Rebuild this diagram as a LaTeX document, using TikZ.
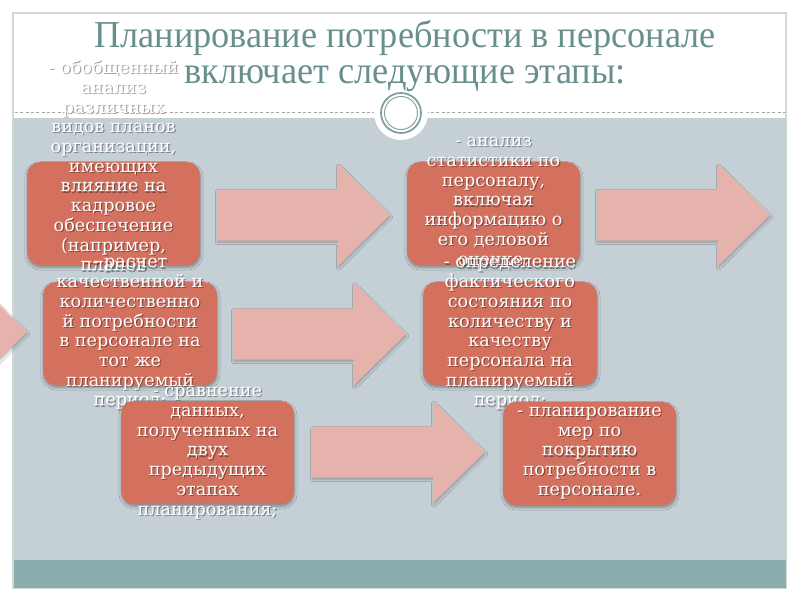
\documentclass[tikz,border=0pt]{standalone}
\usepackage{fontspec}
\setmainfont{DejaVu Serif}
\newfontfamily\titlefont[FakeStretch=0.955]{Liberation Serif}
\usetikzlibrary{shadows,shadows.blur}

\definecolor{slidegray}{RGB}{197,208,214}
\definecolor{bandteal}{RGB}{138,173,173}
\definecolor{boxred}{RGB}{212,112,94}
\definecolor{arrowpink}{RGB}{229,179,172}
\definecolor{titlecol}{RGB}{104,142,142}
\definecolor{ringcol}{RGB}{125,158,158}
\definecolor{framecol}{RGB}{208,216,216}

\tikzset{
  stagebox/.style={fill=boxred, inner sep=0pt, rounded corners=9.75pt,
    minimum width=129.75pt, minimum height=77.25pt,
    blur shadow={shadow xshift=0.4pt, shadow yshift=-1.8pt, shadow blur radius=2pt, shadow opacity=35, shadow blur steps=6}},
  stagearrowstyle/.style={fill=arrowpink,
    blur shadow={shadow xshift=0.5pt, shadow yshift=-1.5pt, shadow blur radius=1.6pt, shadow opacity=25, shadow blur steps=5}},
  stagetext/.style={text=white, align=center, inner sep=0pt,
    font=\fontsize{13.2}{14.8}\selectfont},
  stageshadow/.style={stagetext, text=black, opacity=0.35, xshift=0.9pt, yshift=-0.9pt},
  titletext/.style={text=titlecol, align=center, inner sep=0pt,
    font=\titlefont\fontsize{28.5}{27}\selectfont}
}

\newcommand\stagetxt[4]{%
  \node[stageshadow] (#1s) at (#2,#3) {#4};
  \node[stagetext] (#1) at (#2,#3) {#4};}
\newcommand\stagearrow[2]{%
  \path[stagearrowstyle] (#1,#2) ++(0,-25.5) -- ++(121,0) -- ++(0,-25.5)
    -- ++(52,51) -- ++(-52,51) -- ++(0,-25.5) -- ++(-121,0) -- cycle;}

\begin{document}
\begin{tikzpicture}[x=0.75pt,y=-0.75pt]
\clip (0,0) rectangle (800,600);
\useasboundingbox (0,0) rectangle (800,600);
\fill[white] (0,0) rectangle (800,600);
% slide frame
\draw[framecol, line width=0.8pt] (13,13) rectangle (786,588);
\fill[slidegray] (13.5,118) rectangle (785.5,560);
\fill[bandteal] (13.5,560) rectangle (785.5,587.5);
\draw[gray!70, dashed, dash pattern=on 2.2pt off 1.8pt, line width=0.5pt] (15,112) -- (785,112);
% ornament
\fill[white] (401,113) circle (27);
\draw[ringcol, line width=1.3pt] (401,113) circle (20);
\draw[ringcol, line width=0.7pt] (401,113) circle (16.5);
% title
\node[titletext] (title) at (405,56) {Планирование потребности в персонале\\включает следующие этапы:};

% row 1
\node[stagebox] (b1) at (113.5,213.5) {};
\stagetxt{t1}{113.5}{165.5}{- обобщенный\\анализ\\различных\\видов планов\\организации,\\имеющих\\влияние на\\кадровое\\обеспечение\\(например,\\планов}
\stagearrow{217}{215}
\node[stagebox] (b2) at (493.5,213.5) {};
\stagetxt{t2}{493.5}{202.5}{- анализ\\статистики по\\персоналу,\\включая\\информацию о\\его деловой\\оценке;}
\stagearrow{597}{215}

% row 2
\stagearrow{-146}{332}
\node[stagebox, minimum width=130.5pt] (b3) at (130,333.5) {};
\stagetxt{t3}{130}{334}{- расчет\\качественной и\\количественно\\й потребности\\в персонале на\\тот же\\планируемый\\период;}
\stagearrow{233}{334}
\node[stagebox, minimum width=130.5pt] (b4) at (510,333.5) {};
\stagetxt{t4}{510}{334}{- определение\\фактического\\состояния по\\количеству и\\качеству\\персонала на\\планируемый\\период;}

% row 3
\node[stagebox] (b5) at (207.5,452.5) {};
\stagetxt{t5}{207.5}{453}{- сравнение\\данных,\\полученных на\\двух\\предыдущих\\этапах\\планирования;}
\stagearrow{312}{452}
\node[stagebox] (b6) at (589.5,453.5) {};
\stagetxt{t6}{589.5}{453}{- планирование\\мер по\\покрытию\\потребности в\\персонале.}
\end{tikzpicture}
\end{document}
